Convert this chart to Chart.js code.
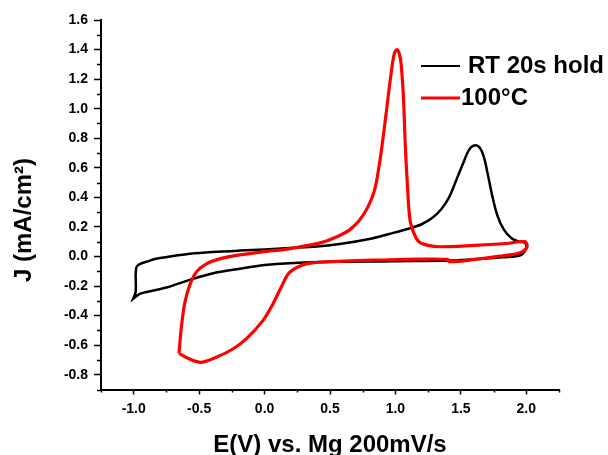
<!DOCTYPE html>
<html>
<head>
<meta charset="utf-8">
<script src="https://cdn.jsdelivr.net/npm/chart.js@4.4.1/dist/chart.umd.min.js"></script>
<style>
  html, body { margin: 0; padding: 0; background: #fff; }
  #wrap { width: 608px; height: 455px; }
</style>
</head>
<body>
<div id="wrap"><canvas id="cv" width="608" height="455"></canvas></div>
<script>
// Cyclic voltammograms: potential E (V vs. Mg) and current density J (mA/cm²)
const seriesNames = ['RT 20s hold', '100\u00B0C'];
const seriesColors = ['#000000', '#ff0000'];

// RT 20s hold loop (the scan-reversal corner is listed twice so the spline keeps it sharp)
const rtE = [-0.98, -0.955, -0.9, -0.83, -0.7, -0.57, -0.4, -0.19, 0.0, 0.19, 0.4, 0.6, 0.8, 0.95, 1.1, 1.2, 1.28, 1.35, 1.41, 1.46, 1.515, 1.565, 1.61, 1.645, 1.675, 1.705, 1.74, 1.78, 1.83, 1.89, 1.95, 1.99, 2.0, 1.96,
  1.82, 1.6, 1.41, 1.0, 0.5, 0.19, 0.0, -0.19, -0.4, -0.573, -0.75, -0.9, -0.954, -1.005, -1.005, -0.985, -0.985, -0.98];
const rtJ = [-0.07, -0.052, -0.035, -0.016, 0.003, 0.018, 0.03, 0.04, 0.047, 0.057, 0.068, 0.088, 0.118, 0.152, 0.188, 0.218, 0.26, 0.32, 0.40, 0.505, 0.625, 0.725, 0.752, 0.735, 0.675, 0.56, 0.41, 0.275, 0.18, 0.122, 0.10, 0.092, 0.06, 0.01,
  -0.005, -0.018, -0.028, -0.032, -0.036, -0.045, -0.058, -0.083, -0.115, -0.158, -0.21, -0.24, -0.253, -0.287, -0.287, -0.24, -0.12, -0.07];

// 100°C loop (the scan-reversal corner is listed twice so the spline keeps it sharp)
const hotE = [-0.654, -0.636, -0.611, -0.573, -0.522, -0.445, -0.344, -0.19, 0.013, 0.19, 0.3, 0.445, 0.57, 0.65, 0.725, 0.789, 0.84, 0.878, 0.905, 0.929, 0.967, 0.992, 1.013, 1.03, 1.043, 1.061, 1.076, 1.094, 1.112, 1.145, 1.18, 1.25, 1.34, 1.6, 1.845, 1.99, 2.005,
  1.947, 1.82, 1.565, 1.41, 1.40, 1.18, 0.954, 0.445, 0.3, 0.19, 0.127, 0.064, -0.013, -0.14, -0.242, -0.369, -0.483, -0.573, -0.654, -0.654];
const hotJ = [-0.655, -0.48, -0.32, -0.197, -0.106, -0.05, -0.016, 0.011, 0.034, 0.052, 0.07, 0.097, 0.14, 0.18, 0.245, 0.334, 0.447, 0.628, 0.8, 0.967, 1.239, 1.374, 1.40, 1.37, 1.306, 1.08, 0.741, 0.447, 0.244, 0.15, 0.10, 0.075, 0.066, 0.075, 0.088, 0.10, 0.063,
  0.023, 0.005, -0.025, -0.035, -0.02, -0.018, -0.022, -0.038, -0.055, -0.11, -0.208, -0.321, -0.434, -0.558, -0.626, -0.682, -0.716, -0.694, -0.655, -0.655];

// Axis ranges and tick steps
const xRange = [-1.25, 2.25];
const yRange = [-0.9, 1.6];
const xStep = 0.25;
const yStep = 0.1;
const xTitle = 'E(V) vs. Mg 200mV/s';
const yTitle = 'J (mA/cm\u00B2)';

const FONT = '"Liberation Sans", Arial, Helvetica, sans-serif';

const toPoints = (xs, ys) => xs.map((v, i) => ({ x: v, y: ys[i] }));
const isMajorX = v => Math.abs(Math.round(v * 4)) % 2 === 0;
const isMajorY = v => Math.abs(Math.round(v * 10)) % 2 === 0;
const fmt = v => { const r = Math.round(v * 10) / 10; return (Math.abs(r) < 1e-9 ? 0 : r).toFixed(1); };

// Minor ticks, axis titles and the legend
const decorations = {
  id: 'decorations',
  afterDraw(chart) {
    const { ctx, chartArea } = chart;
    const xs = chart.scales.x, ys = chart.scales.y;
    ctx.save();
    ctx.strokeStyle = '#000';
    ctx.lineWidth = 1.5;
    ctx.beginPath();
    ys.ticks.forEach(t => {
      if (!isMajorY(t.value)) {
        const p = Math.round(ys.getPixelForValue(t.value)) + 0.5;
        ctx.moveTo(chartArea.left - 4, p); ctx.lineTo(chartArea.left, p);
      }
    });
    xs.ticks.forEach(t => {
      if (!isMajorX(t.value)) {
        const p = Math.round(xs.getPixelForValue(t.value)) + 0.5;
        ctx.moveTo(p, chartArea.bottom); ctx.lineTo(p, chartArea.bottom + 3);
      }
    });
    ctx.stroke();

    // axis titles
    ctx.fillStyle = '#000';
    ctx.font = 'bold 24px ' + FONT;
    ctx.textBaseline = 'alphabetic';
    ctx.textAlign = 'center';
    ctx.fillText(xTitle, (chartArea.left + chartArea.right) / 2, 452);
    ctx.save();
    ctx.translate(31, 282);
    ctx.rotate(-Math.PI / 2);
    ctx.textAlign = 'left';
    ctx.fillText(yTitle, 0, 0);
    ctx.restore();

    // legend
    const rows = [
      { y: 66, x0: 421, x1: 460, tx: 468, ty: 73, w: 2 },
      { y: 98, x0: 421, x1: 460, tx: 461, ty: 105, w: 3 }
    ];
    rows.forEach((r, i) => {
      ctx.strokeStyle = seriesColors[i];
      ctx.lineWidth = r.w;
      ctx.beginPath(); ctx.moveTo(r.x0, r.y); ctx.lineTo(r.x1, r.y); ctx.stroke();
      ctx.fillStyle = '#000';
      ctx.textAlign = 'left';
      ctx.fillText(seriesNames[i], r.tx, r.ty);
    });
    ctx.restore();
  }
};

new Chart(document.getElementById('cv'), {
  type: 'scatter',
  data: {
    datasets: [
      { label: seriesNames[0], data: toPoints(rtE, rtJ), showLine: true, borderColor: seriesColors[0], borderWidth: 2.5, pointRadius: 0, tension: 0.35, order: 1 },
      { label: seriesNames[1], data: toPoints(hotE, hotJ), showLine: true, borderColor: seriesColors[1], borderWidth: 3.2, pointRadius: 0, tension: 0.35, order: 0 }
    ]
  },
  options: {
    responsive: false,
    animation: false,
    events: [],
    layout: { padding: { top: 20, right: 49, left: 0, bottom: 0 } },
    plugins: { legend: { display: false }, tooltip: { enabled: false }, title: { display: false } },
    scales: {
      x: {
        type: 'linear', position: 'bottom',
        min: xRange[0], max: xRange[1],
        border: { display: true, color: '#000', width: 2 },
        grid: { drawOnChartArea: false, tickLength: 5, tickWidth: 1.5, tickColor: c => isMajorX(c.tick.value) ? '#000' : 'rgba(0,0,0,0)' },
        ticks: {
          stepSize: xStep, autoSkip: false, maxRotation: 0, padding: 6, color: '#000',
          font: { family: FONT, size: 14, weight: 'bold' },
          callback: v => isMajorX(v) && v > xRange[0] + 0.01 && v < xRange[1] - 0.01 ? fmt(v) : ''
        },
        afterFit: s => { s.height = 65.5; }
      },
      y: {
        type: 'linear', position: 'left',
        min: yRange[0], max: yRange[1],
        border: { display: true, color: '#000', width: 2 },
        grid: { drawOnChartArea: false, tickLength: 7, tickWidth: 1.5, tickColor: c => isMajorY(c.tick.value) ? '#000' : 'rgba(0,0,0,0)' },
        ticks: {
          stepSize: yStep, autoSkip: false, padding: 6, color: '#000',
          font: { family: FONT, size: 14, weight: 'bold' },
          callback: v => isMajorY(v) ? fmt(v) : ''
        },
        afterFit: s => { s.width = 101; }
      }
    }
  },
  plugins: [decorations]
});
</script>
</body>
</html>
